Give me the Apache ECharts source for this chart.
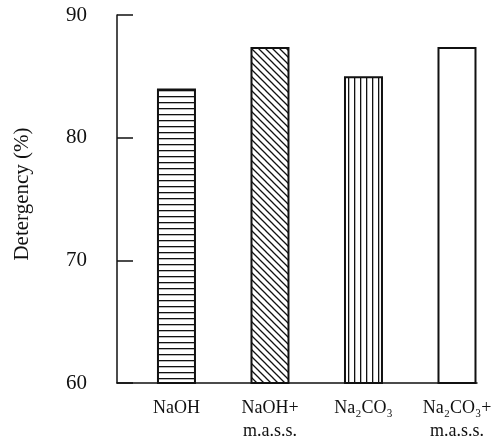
<!DOCTYPE html>
<html>
<head>
<meta charset="utf-8">
<script src="https://cdn.jsdelivr.net/npm/echarts@6/dist/echarts.min.js"></script>
<style>
  html, body { margin: 0; padding: 0; background: #fff; }
  #main { width: 498px; height: 436px; }
</style>
</head>
<body>
<div id="main"></div>
<script>
// 数据
var categories = ['NaOH', 'NaOH+\nm.a.s.s.', 'Na₂CO₃', 'Na₂CO₃+\nm.a.s.s.'];
var detergency = [84, 87.4, 85, 87.4];
var yTicks = [60, 70, 80, 90];

var fontFam = '"Liberation Serif", "DejaVu Serif", serif';

// 填充花纹
function makePattern(kind) {
    var c = document.createElement('canvas');
    var ctx;
    if (kind === 'h') {
        c.width = 4; c.height = 6;
        ctx = c.getContext('2d');
        ctx.fillStyle = '#fff'; ctx.fillRect(0, 0, 4, 6);
        ctx.fillStyle = '#111'; ctx.fillRect(0, 0, 4, 1.3);
    } else if (kind === 'v') {
        c.width = 6; c.height = 4;
        ctx = c.getContext('2d');
        ctx.fillStyle = '#fff'; ctx.fillRect(0, 0, 6, 4);
        ctx.fillStyle = '#111'; ctx.fillRect(0, 0, 1.3, 4);
    } else {
        c.width = 7; c.height = 7;
        ctx = c.getContext('2d');
        ctx.fillStyle = '#fff'; ctx.fillRect(0, 0, 7, 7);
        ctx.strokeStyle = '#111'; ctx.lineWidth = 1.3;
        ctx.beginPath();
        ctx.moveTo(-1, -1); ctx.lineTo(8, 8);
        ctx.moveTo(-1, 6); ctx.lineTo(1, 8);
        ctx.moveTo(6, -1); ctx.lineTo(8, 1);
        ctx.stroke();
    }
    return { image: c, repeat: 'repeat' };
}

var fills = [makePattern('h'), makePattern('d'), makePattern('v'), '#fff'];

var chart = echarts.init(document.getElementById('main'));

var option = {
    animation: false,
    backgroundColor: '#fff',
    grid: { left: 117, right: 21, top: 15, bottom: 53, containLabel: false, outerBoundsMode: 'none' },
    xAxis: {
        type: 'value',
        min: -0.636,
        max: 3.214,
        axisLine: { show: true, onZero: false, lineStyle: { color: '#111', width: 1.5 } },
        axisTick: { show: false },
        splitLine: { show: false },
        axisLabel: {
            customValues: [0, 1, 2, 3],
            formatter: function (v) { return categories[Math.round(v)]; },
            margin: 14,
            color: '#111',
            fontFamily: fontFam,
            fontSize: 18,
            lineHeight: 23
        }
    },
    yAxis: {
        type: 'value',
        min: yTicks[0],
        max: yTicks[yTicks.length - 1],
        interval: 10,
        name: 'Detergency (%)',
        nameLocation: 'middle',
        nameGap: 84,
        nameTextStyle: { color: '#111', fontFamily: fontFam, fontSize: 21, padding: [0, 0, 0, 10] },
        axisLine: { show: true, onZero: false, lineStyle: { color: '#111', width: 1.5 } },
        axisTick: { show: true, inside: true, length: 16, lineStyle: { color: '#111', width: 1.5 } },
        splitLine: { show: false },
        axisLabel: { margin: 30, color: '#111', fontFamily: fontFam, fontSize: 21, padding: [6, 0, 0, 0] }
    },
    series: [{
        type: 'bar',
        barWidth: 39,
        data: detergency.map(function (v, i) {
            return {
                value: [i, v],
                itemStyle: { color: fills[i], borderColor: '#111', borderWidth: 2 }
            };
        })
    }]
};

chart.setOption(option);
</script>
</body>
</html>
